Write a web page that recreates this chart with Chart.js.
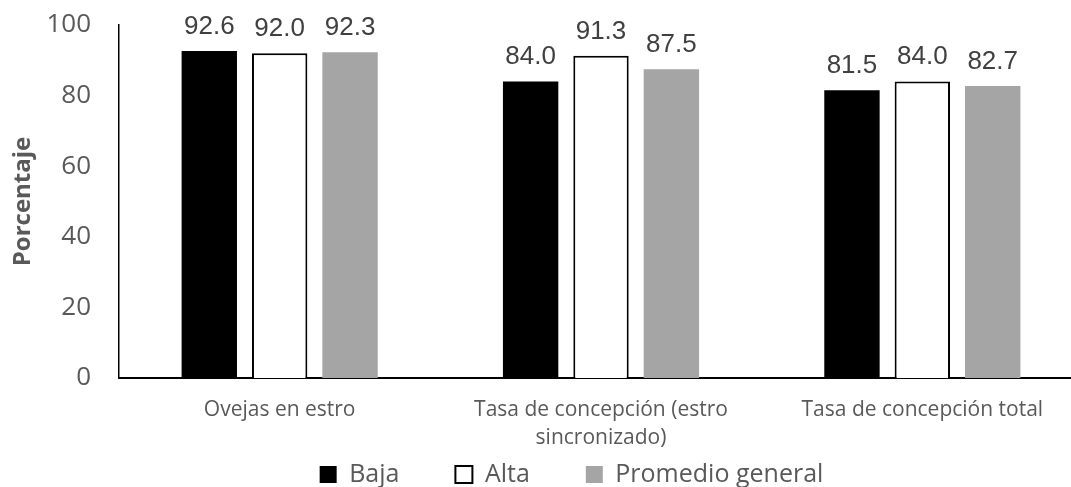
<!DOCTYPE html>
<html>
<head>
<meta charset="utf-8">
<script src="https://cdn.jsdelivr.net/npm/chart.js@4/dist/chart.umd.min.js"></script>
<style>
  html, body { margin: 0; padding: 0; background: #fff; overflow: hidden; }
  #wrap { position: relative; width: 1100px; height: 487px; }
</style>
</head>
<body>
<div id="wrap"><canvas id="chart"></canvas></div>
<script>
// Data
const categories = [
    'Ovejas en estro',
    ['Tasa de concepción (estro', 'sincronizado)'],
    'Tasa de concepción total'
];
const seriesNames = ['Baja', 'Alta', 'Promedio general'];
const baja = [92.6, 84.0, 81.5];
const alta = [92.0, 91.3, 84.0];
const promedio = [92.3, 87.5, 82.7];
const yTicks = [0, 20, 40, 60, 80, 100];

const FONT = "'Open Sans', sans-serif";
const TEXT = '#595959';

// value labels above each bar
const valueLabels = {
    id: 'valueLabels',
    afterDatasetsDraw(chart) {
        const ctx = chart.ctx;
        ctx.save();
        ctx.font = "26px 'Liberation Sans', Arial, sans-serif";
        ctx.fillStyle = '#404040';
        ctx.textAlign = 'center';
        ctx.textBaseline = 'alphabetic';
        chart.data.datasets.forEach((ds, i) => {
            chart.getDatasetMeta(i).data.forEach((bar, j) => {
                ctx.fillText(ds.data[j].toFixed(1), bar.x, bar.y - 17);
            });
        });
        ctx.restore();
    }
};

// Excel placed the legend a bit off centre and low; also let the
// category labels run down into the legend band without being clipped
const layoutTweaks = {
    id: 'layoutTweaks',
    afterLayout(chart) {
        const lg = chart.legend;
        lg.left += 30;
        lg.right += 30;
        lg.top += 10;
        lg.bottom += 10;
        chart.scales.x.bottom = chart.height;
    }
};

new Chart(document.getElementById('chart'), {
    type: 'bar',
    data: {
        labels: categories,
        datasets: [
            { label: seriesNames[0], data: baja, backgroundColor: '#000000', borderWidth: 0 },
            { label: seriesNames[1], data: alta, backgroundColor: '#ffffff', borderColor: '#000000', borderWidth: 2 },
            { label: seriesNames[2], data: promedio, backgroundColor: '#a5a5a5', borderWidth: 0 }
        ]
    },
    options: {
        responsive: true,
        maintainAspectRatio: false,
        animation: false,
        devicePixelRatio: 1,
        layout: { padding: { left: 0, right: 17, top: 25, bottom: 0 } },
        datasets: { bar: { categoryPercentage: 0.657, barPercentage: 0.787 } },
        scales: {
            x: {
                grid: { display: false, drawTicks: false },
                border: { display: true, color: '#000000', width: 2 },
                ticks: { color: TEXT, font: { family: FONT, size: 21, lineHeight: 1.33 }, padding: 18, maxRotation: 0, autoSkip: false },
                afterFit(scale) {
                    const lh = scale.chart.legend ? scale.chart.legend.height : 0;
                    scale.height = Math.max(0, 487 - 378 - lh);
                }
            },
            y: {
                min: 0,
                max: 100,
                afterBuildTicks(scale) {
                    scale.ticks = yTicks.map(v => ({ value: v }));
                },
                // no tick marks are drawn; tickLength only spaces the labels off the axis
                grid: { display: false, drawTicks: true, tickLength: 20 },
                border: { display: true, color: '#000000', width: 1.5 },
                ticks: { color: TEXT, font: { family: FONT, size: 26 }, padding: 8 },
                title: {
                    display: true,
                    text: 'Porcentaje',
                    color: TEXT,
                    font: { family: FONT, size: 24, weight: 'bold' },
                    padding: { top: 9, bottom: 0 }
                },
                afterFit(scale) {
                    scale.width = 119;
                }
            }
        },
        plugins: {
            legend: {
                position: 'bottom',
                labels: {
                    color: TEXT,
                    font: { family: FONT, size: 25 },
                    boxWidth: 17,
                    boxHeight: 17,
                    padding: 56,
                    useBorderRadius: false
                }
            },
            tooltip: { enabled: false }
        }
    },
    plugins: [valueLabels, layoutTweaks]
});
</script>
</body>
</html>
